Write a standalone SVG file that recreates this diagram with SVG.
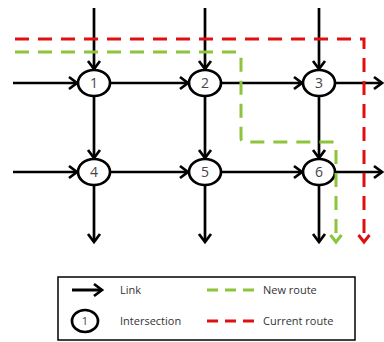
<svg xmlns="http://www.w3.org/2000/svg" width="384" height="342" viewBox="0 0 384 342">
<style>
.link{stroke:#000;stroke-width:2.7;fill:none;marker-end:url(#arr)}
.node{fill:#fff;stroke:#000;stroke-width:2.7}
.num{font-family:"Open Sans","DejaVu Sans",sans-serif;font-size:14px;fill:#444;text-anchor:middle}
.lbl{font-family:"Open Sans","DejaVu Sans",sans-serif;font-size:11px;fill:#333}
.red{stroke:#e01010;stroke-width:3;fill:none;stroke-dasharray:14 9}
.green{stroke:#8cc43c;stroke-width:3;fill:none;stroke-dasharray:14 9}
</style>
<defs>
<marker id="arr" markerUnits="userSpaceOnUse" markerWidth="14" markerHeight="14" refX="10" refY="7" orient="auto" overflow="visible">
<path d="M2,1 L10,7 L2,13" fill="none" stroke="#000" stroke-width="2.7"/>
</marker>
<marker id="arrR" markerUnits="userSpaceOnUse" markerWidth="14" markerHeight="14" refX="10" refY="7" orient="auto" overflow="visible">
<path d="M3,1.5 L10,7 L3,12.5" fill="none" stroke="#e01010" stroke-width="3"/>
</marker>
<marker id="arrG" markerUnits="userSpaceOnUse" markerWidth="14" markerHeight="14" refX="10" refY="7" orient="auto" overflow="visible">
<path d="M3,1.5 L10,7 L3,12.5" fill="none" stroke="#8cc43c" stroke-width="3"/>
</marker>
</defs>
<rect width="384" height="342" fill="#fff"/>
<g id="connectors">
<line class="link" x1="94" y1="8" x2="94" y2="69"/>
<line class="link" x1="205" y1="8" x2="205" y2="69"/>
<line class="link" x1="319" y1="8" x2="319" y2="69"/>
<line class="link" x1="13" y1="83" x2="77" y2="83"/>
<line class="link" x1="110" y1="83" x2="188" y2="83"/>
<line class="link" x1="221" y1="83" x2="302" y2="83"/>
<line class="link" x1="335" y1="83" x2="382" y2="83"/>
<line class="link" x1="94" y1="96" x2="94" y2="158"/>
<line class="link" x1="205" y1="96" x2="205" y2="158"/>
<line class="link" x1="319" y1="96" x2="319" y2="158"/>
<line class="link" x1="13" y1="172" x2="77" y2="172"/>
<line class="link" x1="110" y1="172" x2="188" y2="172"/>
<line class="link" x1="221" y1="172" x2="302" y2="172"/>
<line class="link" x1="335" y1="172" x2="382" y2="172"/>
<line class="link" x1="94" y1="185" x2="94" y2="242"/>
<line class="link" x1="205" y1="185" x2="205" y2="242"/>
<line class="link" x1="319" y1="185" x2="319" y2="242"/>
</g>
<g id="n1"><ellipse class="node" cx="94" cy="83" rx="16" ry="13"/><text class="num" x="94" y="88">1</text></g>
<g id="n2"><ellipse class="node" cx="205" cy="83" rx="16" ry="13"/><text class="num" x="205" y="88">2</text></g>
<g id="n3"><ellipse class="node" cx="319" cy="83" rx="16" ry="13"/><text class="num" x="319" y="88">3</text></g>
<g id="n4"><ellipse class="node" cx="94" cy="172" rx="16" ry="13"/><text class="num" x="94" y="177">4</text></g>
<g id="n5"><ellipse class="node" cx="205" cy="172" rx="16" ry="13"/><text class="num" x="205" y="177">5</text></g>
<g id="n6"><ellipse class="node" cx="319" cy="172" rx="16" ry="13"/><text class="num" x="319" y="177">6</text></g>
<g id="routes">
<path class="red" d="M15,39 H364 V242" marker-end="url(#arrR)"/>
<path class="green" d="M15,52 H237 Q241,52 241,56 V138 Q241,142 245,142 H332 Q336,142 336,146 V242" marker-end="url(#arrG)"/>
</g>
<g id="legend">
<rect x="58" y="277" width="297" height="63" fill="#fff" stroke="#000" stroke-width="1.5"/>
<line class="link" x1="72" y1="290" x2="102" y2="290" style="stroke-width:3"/>
<text class="lbl" x="120" y="294">Link</text>
<ellipse class="node" cx="85" cy="321" rx="13" ry="11"/>
<text class="num" x="85" y="325" style="font-size:11px">1</text>
<text class="lbl" x="120" y="325">Intersection</text>
<line class="green" x1="207" y1="290" x2="255" y2="290" style="stroke-dasharray:11 7"/>
<text class="lbl" x="263" y="294">New route</text>
<line class="red" x1="207" y1="321" x2="255" y2="321" style="stroke-dasharray:11 7"/>
<text class="lbl" x="263" y="325">Current route</text>
</g>
</svg>
